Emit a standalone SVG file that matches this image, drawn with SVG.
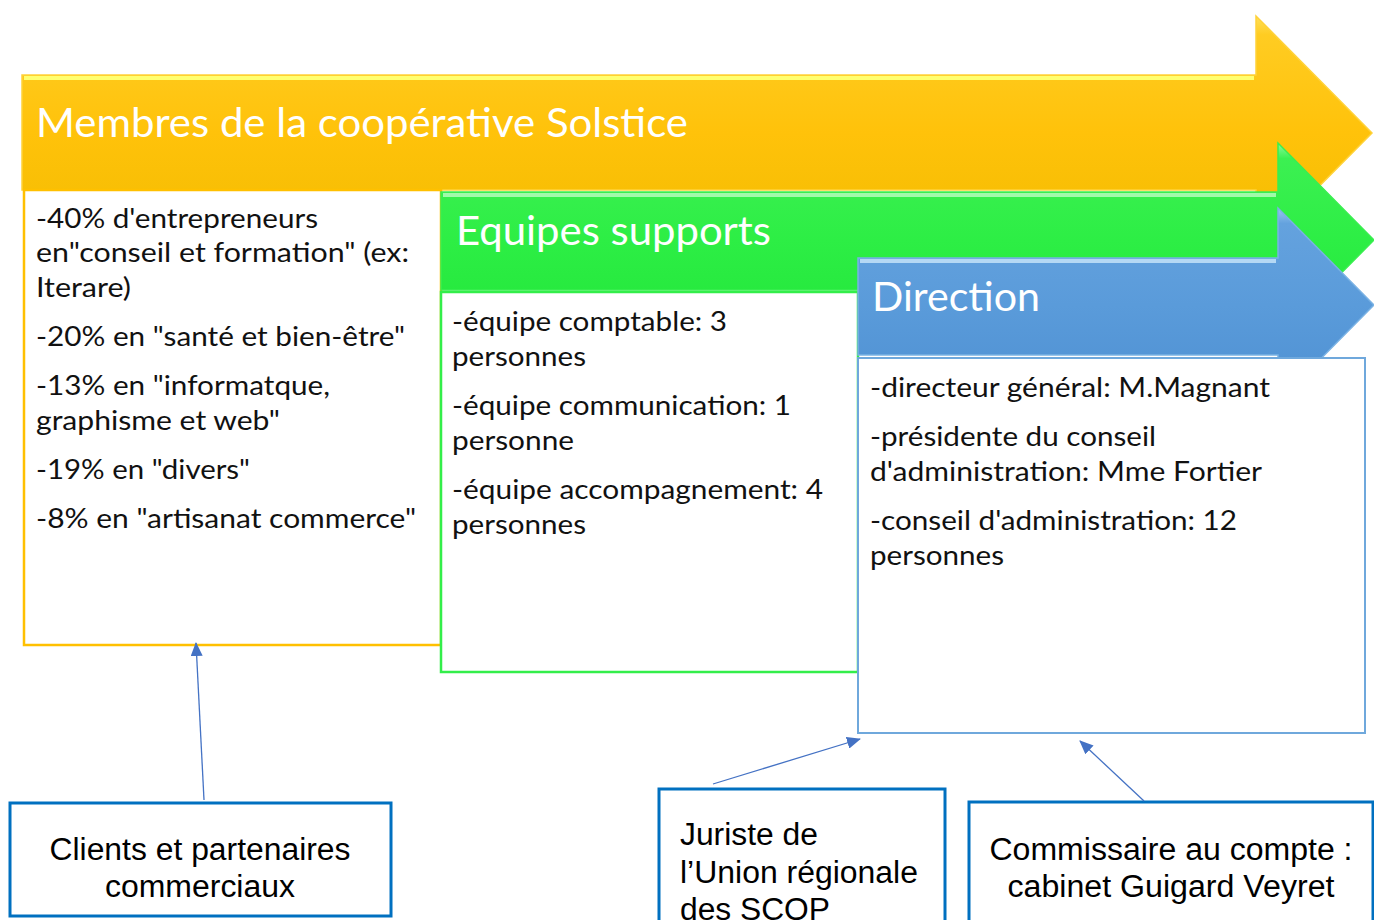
<svg xmlns="http://www.w3.org/2000/svg" width="1374" height="920" viewBox="0 0 1374 920">
<defs>
<linearGradient id="gy" x1="0" y1="0" x2="0" y2="1">
<stop offset="0" stop-color="#FFE05A"/><stop offset="0.08" stop-color="#FFCC22"/><stop offset="0.5" stop-color="#FFC20A"/><stop offset="1" stop-color="#F2BC00"/>
</linearGradient>
<linearGradient id="gg" x1="0" y1="0" x2="0" y2="1">
<stop offset="0" stop-color="#8CF89A"/><stop offset="0.08" stop-color="#3CF052"/><stop offset="0.5" stop-color="#2DEE45"/><stop offset="1" stop-color="#22E63A"/>
</linearGradient>
<linearGradient id="gb" x1="0" y1="0" x2="0" y2="1">
<stop offset="0" stop-color="#9CC8EE"/><stop offset="0.08" stop-color="#64A2DE"/><stop offset="0.5" stop-color="#5A9BDA"/><stop offset="1" stop-color="#4E90D2"/>
</linearGradient>
<marker id="ah" viewBox="0 0 14 12" refX="13" refY="6" markerWidth="14" markerHeight="12" markerUnits="userSpaceOnUse" orient="auto">
<path d="M0,0 L14,6 L0,12 z" fill="#4472C4"/>
</marker>
<style>
.title{font-family:Lato,"Open Sans","DejaVu Sans",sans-serif;font-size:40px;fill:#ffffff}
.body{font-family:Lato,"Open Sans","DejaVu Sans",sans-serif;font-size:27px;fill:#111111}
.ext{font-family:"Liberation Sans",Arial,sans-serif;font-size:31px;fill:#000000}
.conn{stroke:#4472C4;stroke-width:1.3;fill:none}
.extbox{fill:#ffffff;stroke:#0070C0;stroke-width:3}
</style>
</defs>

<g id="membres">
<path d="M22,75 L1256,75 L1256,16 L1372,133 L1256,250 L1256,190 L22,190 Z" fill="url(#gy)" stroke="#FFD23A" stroke-width="1.5"/>
<path d="M24,78 L1254,78" stroke="#FFFF70" stroke-width="4"/>
<rect x="24" y="190" width="417" height="455" fill="#ffffff" stroke="#FFC000" stroke-width="2.5"/>
<text class="title" x="36" y="137" textLength="652" lengthAdjust="spacingAndGlyphs">Membres de la coopérative Solstice</text>
<text class="body" x="36" y="228" textLength="282" lengthAdjust="spacingAndGlyphs">-40% d'entrepreneurs</text>
<text class="body" x="36" y="262" textLength="373" lengthAdjust="spacingAndGlyphs">en"conseil et formation" (ex:</text>
<text class="body" x="36" y="297" textLength="95" lengthAdjust="spacingAndGlyphs">Iterare)</text>
<text class="body" x="36" y="346" textLength="369" lengthAdjust="spacingAndGlyphs">-20% en "santé et bien-être"</text>
<text class="body" x="36" y="395" textLength="294" lengthAdjust="spacingAndGlyphs">-13% en "informatque,</text>
<text class="body" x="36" y="430" textLength="244" lengthAdjust="spacingAndGlyphs">graphisme et web"</text>
<text class="body" x="36" y="479" textLength="214" lengthAdjust="spacingAndGlyphs">-19% en "divers"</text>
<text class="body" x="36" y="528" textLength="380" lengthAdjust="spacingAndGlyphs">-8% en "artisanat commerce"</text>
</g>

<g id="equipes">
<path d="M441,192 L1278,192 L1278,143 L1374,240 L1278,337 L1278,290 L441,290 Z" fill="url(#gg)" stroke="#3AEE50" stroke-width="1.5"/>
<path d="M443,195 L1276,195" stroke="#A0FAAA" stroke-width="4"/>
<rect x="441" y="292" width="417" height="380" fill="#ffffff" stroke="#33EE4A" stroke-width="2.5"/>
<text class="title" x="456" y="245" textLength="315" lengthAdjust="spacingAndGlyphs">Equipes supports</text>
<text class="body" x="452" y="331" textLength="275" lengthAdjust="spacingAndGlyphs">-équipe comptable: 3</text>
<text class="body" x="452" y="366" textLength="134" lengthAdjust="spacingAndGlyphs">personnes</text>
<text class="body" x="452" y="415" textLength="339" lengthAdjust="spacingAndGlyphs">-équipe communication: 1</text>
<text class="body" x="452" y="450" textLength="122" lengthAdjust="spacingAndGlyphs">personne</text>
<text class="body" x="452" y="499" textLength="371" lengthAdjust="spacingAndGlyphs">-équipe accompagnement: 4</text>
<text class="body" x="452" y="534" textLength="134" lengthAdjust="spacingAndGlyphs">personnes</text>
</g>

<g id="direction">
<path d="M858,258 L1278,258 L1278,208 L1374,305 L1278,402 L1278,355 L858,355 Z" fill="url(#gb)" stroke="#7AB2E4" stroke-width="1.5"/>
<path d="M860,261 L1276,261" stroke="#B4D8F4" stroke-width="4"/>
<rect x="858" y="358" width="507" height="375" fill="#ffffff" stroke="#6FA8DC" stroke-width="2"/>
<text class="title" x="872" y="311" textLength="168" lengthAdjust="spacingAndGlyphs">Direction</text>
<text class="body" x="870" y="397" textLength="400" lengthAdjust="spacingAndGlyphs">-directeur général: M.Magnant</text>
<text class="body" x="870" y="446" textLength="286" lengthAdjust="spacingAndGlyphs">-présidente du conseil</text>
<text class="body" x="870" y="481" textLength="392" lengthAdjust="spacingAndGlyphs">d'administration: Mme Fortier</text>
<text class="body" x="870" y="530" textLength="367" lengthAdjust="spacingAndGlyphs">-conseil d'administration: 12</text>
<text class="body" x="870" y="565" textLength="134" lengthAdjust="spacingAndGlyphs">personnes</text>
</g>

<g id="clients">
<rect class="extbox" x="10" y="803" width="381" height="113"/>
<text class="ext" x="200" y="860" text-anchor="middle" textLength="301" lengthAdjust="spacingAndGlyphs">Clients et partenaires</text>
<text class="ext" x="200" y="897" text-anchor="middle" textLength="190" lengthAdjust="spacingAndGlyphs">commerciaux</text>
</g>

<g id="juriste">
<rect class="extbox" x="659" y="789" width="286" height="140"/>
<text class="ext" x="680" y="845" textLength="138" lengthAdjust="spacingAndGlyphs">Juriste de</text>
<text class="ext" x="680" y="883" textLength="238" lengthAdjust="spacingAndGlyphs">l’Union régionale</text>
<text class="ext" x="680" y="920" textLength="150" lengthAdjust="spacingAndGlyphs">des SCOP</text>
</g>

<g id="commissaire">
<rect class="extbox" x="969" y="802" width="404" height="130"/>
<text class="ext" x="1171" y="860" text-anchor="middle" textLength="363" lengthAdjust="spacingAndGlyphs">Commissaire au compte :</text>
<text class="ext" x="1171" y="897" text-anchor="middle" textLength="327" lengthAdjust="spacingAndGlyphs">cabinet Guigard Veyret</text>
</g>

<g id="connectors">
<line class="conn" x1="204" y1="800" x2="196" y2="643" marker-end="url(#ah)"/>
<line class="conn" x1="713" y1="784" x2="860" y2="739" marker-end="url(#ah)"/>
<line class="conn" x1="1144" y1="801" x2="1080" y2="741" marker-end="url(#ah)"/>
</g>
</svg>
